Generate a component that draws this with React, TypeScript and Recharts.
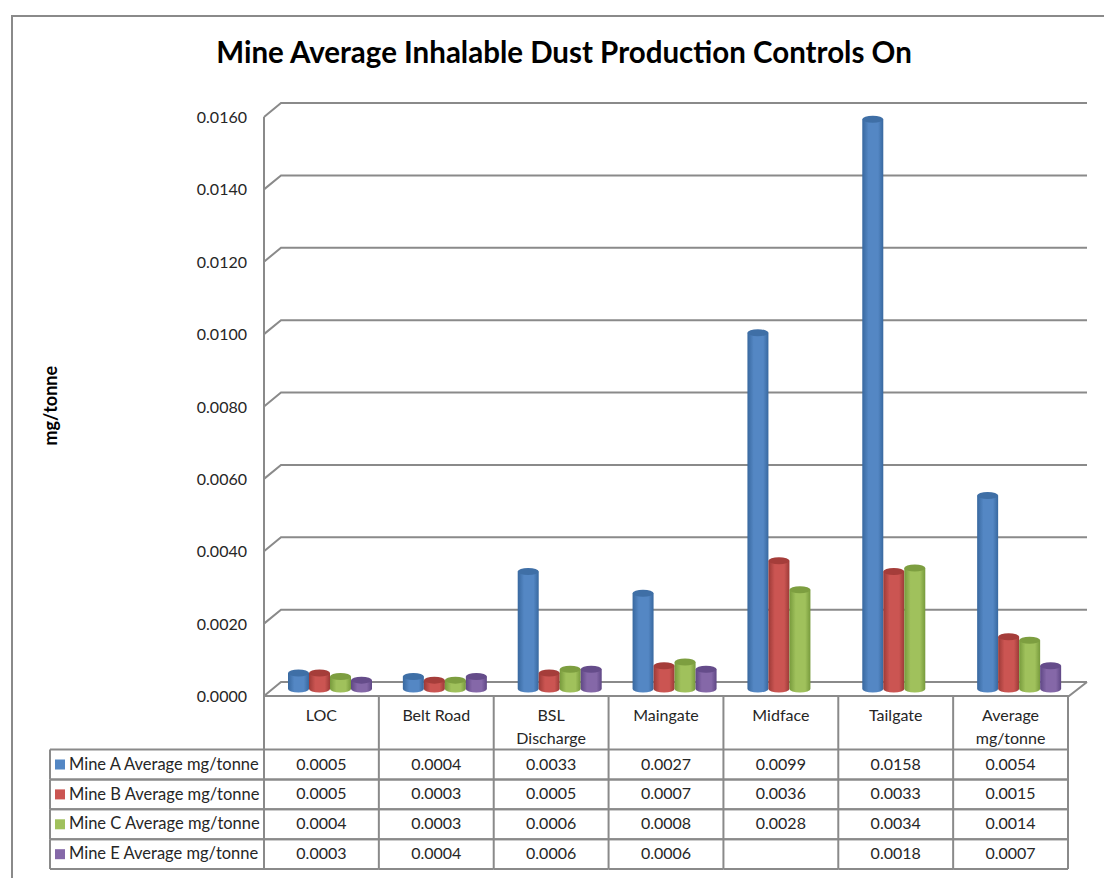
import { Bar, BarChart, CartesianGrid, XAxis, YAxis } from 'recharts'

const categories = ['LOC', 'Belt Road', 'BSL Discharge', 'Maingate', 'Midface', 'Tailgate', 'Average mg/tonne']
const mineA = [0.0005, 0.0004, 0.0033, 0.0027, 0.0099, 0.0158, 0.0054]
const mineB = [0.0005, 0.0003, 0.0005, 0.0007, 0.0036, 0.0033, 0.0015]
const mineC = [0.0004, 0.0003, 0.0006, 0.0008, 0.0028, 0.0034, 0.0014]
const mineE = [0.0003, 0.0004, 0.0006, 0.0006, null, 0.0018, 0.0007]
const yTicks = [0, 0.002, 0.004, 0.006, 0.008, 0.01, 0.012, 0.014, 0.016]

const seriesNames = ['Mine A Average mg/tonne', 'Mine B Average mg/tonne', 'Mine C Average mg/tonne', 'Mine E Average mg/tonne']
const seriesKeys = ['a', 'b', 'c', 'e']
const seriesValues = [mineA, mineB, mineC, mineE]
const seriesColors = ['#5487c4', '#cb5552', '#a0c15c', '#8568a8']
const seriesDark = ['#38689f', '#9c3a37', '#779a3c', '#5f4785']
const seriesTop = ['#3f6fa6', '#a53d3a', '#7d9e40', '#654c8a']

const data = categories.map((name, i) => ({
  name,
  a: mineA[i],
  b: mineB[i],
  c: mineC[i],
  e: mineE[i],
}))

const FONT = 'Lato, sans-serif'
const LINE = '#8a8a8a'
const TEXT = '#262626'

// fake 3d: front edge and back wall sit either side of the plane the bars stand on
const FRONT_X = -9
const FRONT_Y = 5
const BACK_X = 8
const BACK_Y = -9

const PLOT_LEFT = 273
const PLOT_RIGHT = 1077
const PLOT_TOP = 112
const PLOT_BOTTOM = 691

const COL_W = 804 / 7
const HEADER_BOTTOM = 749.5
const ROW_H = 29.9
const TABLE_LEFT = 50

function WallLine({ y1 }: { y1?: number }) {
  const y = y1 ?? 0
  const isFloor = Math.abs(y - PLOT_BOTTOM) < 1
  const fx = PLOT_LEFT + FRONT_X
  const bx = PLOT_LEFT + BACK_X
  const fy = y + FRONT_Y
  const by = y + BACK_Y
  const rx = PLOT_RIGHT + BACK_X + 2
  return (
    <g stroke={LINE} strokeWidth={2} fill="none">
      <polyline points={`${fx},${fy} ${bx},${by} ${rx},${by}`} />
      <line x1={fx} y1={fy} x2={fx} y2={PLOT_BOTTOM + FRONT_Y} />
      {isFloor && <polyline points={`${fx},${fy} ${PLOT_RIGHT + FRONT_X + 1},${fy} ${rx},${by}`} />}
    </g>
  )
}

function Cylinder(props: any) {
  const { x, y, width, height, index, seriesIndex } = props
  if (seriesValues[seriesIndex][index] == null) return null
  const rx = width / 2
  const ry = 3.5
  const foot = y + height - 2
  return (
    <g>
      <path
        d={`M${x},${y} L${x},${foot} A${rx},${ry} 0 0 0 ${x + width},${foot} L${x + width},${y} Z`}
        fill={`url(#cyl-${seriesIndex})`}
      />
      <ellipse cx={x + rx} cy={y} rx={rx} ry={ry} fill={seriesTop[seriesIndex]} />
    </g>
  )
}

function YTick({ x, y, payload }: any) {
  return (
    <text x={x - 2} y={y + FRONT_Y + 2} textAnchor="end" dominantBaseline="middle" fontFamily={FONT} fontSize={16} fill={TEXT}>
      {payload.value.toFixed(4)}
    </text>
  )
}

function splitLabel(name: string) {
  if (name === 'BSL Discharge') return ['BSL', 'Discharge']
  if (name === 'Average mg/tonne') return ['Average', 'mg/tonne']
  return [name]
}

// the data table under the plot is drawn column by column from the axis ticks
function TableColumn({ x, payload, index }: any) {
  const cx = x + FRONT_X
  const left = cx - COL_W / 2
  const right = cx + COL_W / 2
  const top = PLOT_BOTTOM + FRONT_Y
  const bottom = HEADER_BOTTOM + ROW_H * seriesNames.length
  return (
    <g>
      <line x1={right} y1={top} x2={right} y2={bottom} stroke={LINE} strokeWidth={2} />
      {index === 0 && <line x1={left} y1={top} x2={left} y2={bottom} stroke={LINE} strokeWidth={2} />}
      {splitLabel(payload.value).map((t, i) => (
        <text key={t} x={cx} y={717 + i * 23} textAnchor="middle" dominantBaseline="middle" fontFamily={FONT} fontSize={16} fill={TEXT}>
          {t}
        </text>
      ))}
      {seriesValues.map((vals, r) => {
        const ly = HEADER_BOTTOM + ROW_H * r
        const v = vals[index]
        return (
          <g key={r}>
            <line x1={left} y1={ly} x2={right} y2={ly} stroke={LINE} strokeWidth={2} />
            <line x1={left} y1={ly + ROW_H} x2={right} y2={ly + ROW_H} stroke={LINE} strokeWidth={2} />
            {v != null && (
              <text x={cx} y={ly + 16} textAnchor="middle" dominantBaseline="middle" fontFamily={FONT} fontSize={16} fill={TEXT}>
                {v.toFixed(4)}
              </text>
            )}
          </g>
        )
      })}
      {index === 0 &&
        seriesNames.map((n, r) => {
          const ly = HEADER_BOTTOM + ROW_H * r
          return (
            <g key={n}>
              <line x1={TABLE_LEFT} y1={ly} x2={left} y2={ly} stroke={LINE} strokeWidth={2} />
              <line x1={TABLE_LEFT} y1={ly + ROW_H} x2={left} y2={ly + ROW_H} stroke={LINE} strokeWidth={2} />
              <line x1={TABLE_LEFT} y1={ly} x2={TABLE_LEFT} y2={ly + ROW_H} stroke={LINE} strokeWidth={2} />
              <rect x={55} y={ly + 10} width={10} height={10} fill={seriesColors[r]} />
              <text x={69} y={ly + 16} dominantBaseline="middle" fontFamily={FONT} fontSize={16.5} fill={TEXT}>
                {n}
              </text>
            </g>
          )
        })}
    </g>
  )
}

export default function App() {
  return (
    <div style={{ position: 'absolute', left: 0, top: 0, width: 1104, height: 878, background: '#fff', overflow: 'hidden' }}>
      <div style={{ position: 'absolute', left: 11, top: 15, width: 1100, height: 900, borderLeft: `2px solid ${LINE}`, borderTop: `2px solid ${LINE}` }} />
      <div style={{ position: 'absolute', left: 0, top: 33, width: 1128, textAlign: 'center', fontFamily: FONT, fontWeight: 700, fontSize: 29.5, lineHeight: '38px', color: '#000', whiteSpace: 'nowrap' }}>
        Mine Average Inhalable Dust Production Controls On
      </div>
      <BarChart
        width={1104}
        height={878}
        data={data}
        margin={{ top: PLOT_TOP, right: 1104 - PLOT_RIGHT, bottom: 0, left: 0 }}
        barSize={21}
        barGap={0}
        style={{ position: 'absolute', left: 0, top: 0 }}
      >
        <defs>
          {seriesColors.map((c, i) => (
            <linearGradient key={c} id={`cyl-${i}`} x1="0" y1="0" x2="1" y2="0">
              <stop offset="0%" stopColor={seriesDark[i]} />
              <stop offset="30%" stopColor={c} />
              <stop offset="75%" stopColor={c} />
              <stop offset="100%" stopColor={seriesDark[i]} />
            </linearGradient>
          ))}
        </defs>
        <CartesianGrid vertical={false} horizontal={(p: any) => <WallLine key={p.key ?? p.y1} y1={p.y1} />} />
        <XAxis dataKey="name" axisLine={false} tickLine={false} interval={0} height={878 - PLOT_BOTTOM} tick={<TableColumn />} />
        <YAxis
          width={PLOT_LEFT}
          domain={[0, 0.016]}
          ticks={yTicks}
          axisLine={false}
          tickLine={false}
          tickMargin={18}
          tick={<YTick />}
          label={{ value: 'mg/tonne', angle: -90, position: 'insideLeft', offset: 51, dy: 44, style: { fontFamily: FONT, fontWeight: 700, fontSize: 18, fill: '#000' } }}
        />
        {seriesKeys.map((k, i) => (
          <Bar key={k} dataKey={k} fill={seriesColors[i]} isAnimationActive={false} shape={(p: any) => <Cylinder {...p} seriesIndex={i} />} />
        ))}
      </BarChart>
    </div>
  )
}
